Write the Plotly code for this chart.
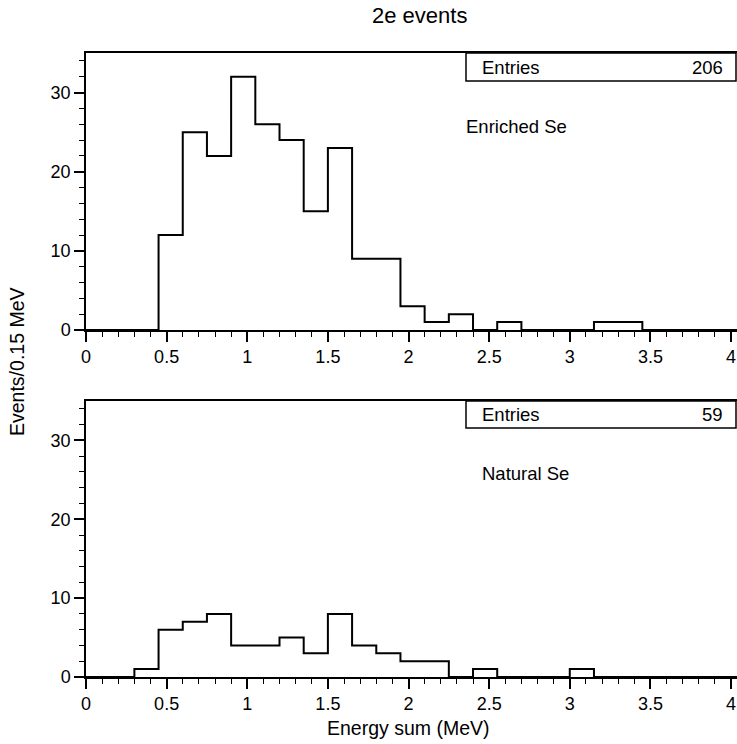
import numpy as np
import plotly.graph_objects as go

# ---- data ----
bin_width = 0.15  # MeV
enriched_start = 0.45
enriched_counts = [12, 25, 22, 32, 26, 24, 15, 23, 9, 9, 3, 1, 2, 0, 1, 0, 0, 0, 1, 1]
enriched_entries = 206

natural_start = 0.30
natural_counts = [1, 6, 7, 8, 4, 4, 5, 3, 8, 4, 3, 2, 2, 0, 1, 0, 0, 0, 1]
natural_entries = 59

x_tick_vals = [0, 0.5, 1, 1.5, 2, 2.5, 3, 3.5, 4]
x_tick_text = ["0", "0.5", "1", "1.5", "2", "2.5", "3", "3.5", "4"]
y_tick_vals = [0, 10, 20, 30]
y_tick_text = ["0", "10", "20", "30"]

X_MAX = 4.037
Y_MAX = 35

FONT = "Liberation Sans, Arial, sans-serif"


def step_xy(start, counts):
    edges = start + bin_width * np.arange(len(counts) + 1)
    xs = [0.0] + list(edges) + [X_MAX]
    ys = [0] + list(counts) + [0, 0]
    return xs, ys


fig = go.Figure()
for i, (start, counts) in enumerate([(enriched_start, enriched_counts),
                                     (natural_start, natural_counts)]):
    xs, ys = step_xy(start, counts)
    ax = "" if i == 0 else "2"
    fig.add_trace(go.Scatter(x=xs, y=ys, mode="lines", line_shape="hv",
                             line=dict(color="black", width=2),
                             xaxis="x" + ax, yaxis="y" + ax,
                             showlegend=False, hoverinfo="skip"))

W, H = 737, 744
ML, MR, MT, MB = 86, 0, 53, 67
plot_h = H - MT - MB  # 624
top_dom = [(677 - 330) / plot_h, 1.0]
bot_dom = [0.0, (677 - 401) / plot_h]

xaxis_common = dict(
    range=[0, X_MAX], showline=True, linecolor="black", linewidth=1.5,
    mirror=True, showgrid=False, zeroline=False,
    ticks="outside", ticklen=10, tickwidth=1.5, tickcolor="black",
    tickvals=x_tick_vals, ticktext=x_tick_text,
    tickfont=dict(family=FONT, size=18, color="black"),
    minor=dict(dtick=0.1, tick0=0, ticks="outside", ticklen=5,
               tickwidth=1.2, tickcolor="black", showgrid=False),
)
yaxis_common = dict(
    range=[0, Y_MAX], showline=True, linecolor="black", linewidth=1.5,
    mirror=False, showgrid=False, zeroline=False,
    ticks="outside", ticklen=10, tickwidth=1.5, tickcolor="black",
    tickvals=y_tick_vals, ticktext=y_tick_text,
    tickfont=dict(family=FONT, size=18, color="black"),
    minor=dict(dtick=2, tick0=0, ticks="outside", ticklen=5,
               tickwidth=1.2, tickcolor="black", showgrid=False),
)

fig.update_layout(
    width=W, height=H,
    margin=dict(l=ML, r=MR, t=MT, b=MB),
    paper_bgcolor="white", plot_bgcolor="white",
    xaxis=dict(domain=[0, 1], anchor="y", **xaxis_common),
    yaxis=dict(domain=top_dom, anchor="x", **yaxis_common),
    xaxis2=dict(domain=[0, 1], anchor="y2", **xaxis_common),
    yaxis2=dict(domain=bot_dom, anchor="x2", **yaxis_common),
    font=dict(family=FONT, color="black"),
)

plot_w = W - ML - MR


def px_x(px):
    return (px - ML) / plot_w


def px_y(py):
    return (H - MB - py) / plot_h


# Entries boxes
for (y0, y1, n) in [(81, 53, enriched_entries), (428, 401, natural_entries)]:
    fig.add_shape(type="rect", xref="paper", yref="paper",
                  x0=px_x(466), x1=px_x(736), y0=px_y(y0), y1=px_y(y1),
                  line=dict(color="black", width=1.5), fillcolor="white", layer="above")
    fig.add_annotation(xref="paper", yref="paper", x=px_x(480), y=px_y((y0 + y1) / 2),
                       text="Entries", showarrow=False, xanchor="left", yanchor="middle",
                       font=dict(family=FONT, size=18.5, color="black"))
    fig.add_annotation(xref="paper", yref="paper", x=px_x(725), y=px_y((y0 + y1) / 2),
                       text=str(n), showarrow=False, xanchor="right", yanchor="middle",
                       font=dict(family=FONT, size=18.5, color="black"))

# Sample labels
fig.add_annotation(xref="paper", yref="paper", x=px_x(464), y=px_y(126),
                   text="Enriched Se", showarrow=False, xanchor="left", yanchor="middle",
                   font=dict(family=FONT, size=18.5, color="black"))
fig.add_annotation(xref="paper", yref="paper", x=px_x(480), y=px_y(473),
                   text="Natural Se", showarrow=False, xanchor="left", yanchor="middle",
                   font=dict(family=FONT, size=18.5, color="black"))

# Title
fig.add_annotation(xref="paper", yref="paper", x=px_x(419), y=px_y(16),
                   text="2e events", showarrow=False, xanchor="center", yanchor="middle",
                   font=dict(family=FONT, size=22, color="black"))
# Axis titles
fig.add_annotation(xref="paper", yref="paper", x=px_x(408), y=px_y(728),
                   text="Energy sum (MeV)", showarrow=False, xanchor="center", yanchor="middle",
                   font=dict(family=FONT, size=19.5, color="black"))
fig.add_annotation(xref="paper", yref="paper", x=px_x(17), y=px_y(362),
                   text="Events/0.15 MeV", showarrow=False, xanchor="center", yanchor="middle",
                   textangle=-90, font=dict(family=FONT, size=19.5, color="black"))

fig.write_html("out.html",
               config={"displayModeBar": False},
               post_script="document.body.style.margin='0';document.body.style.overflow='hidden';")
